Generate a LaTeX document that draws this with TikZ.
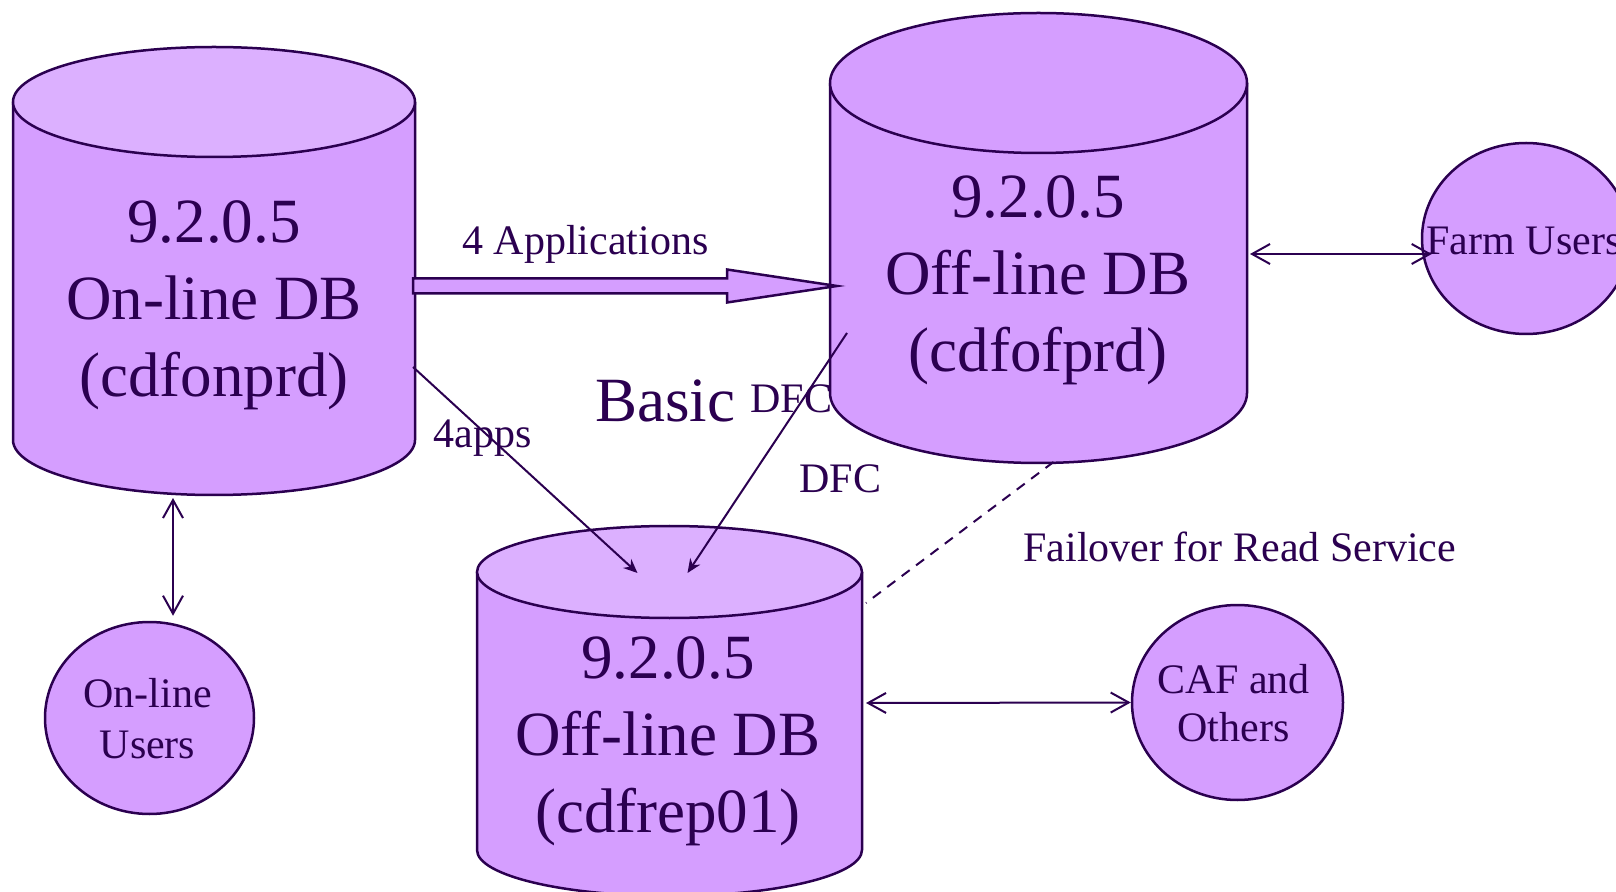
\documentclass[tikz,border=0pt]{standalone}
\usepackage{fontspec}
\setmainfont{Liberation Serif}
\usetikzlibrary{arrows.meta,calc,shapes.geometric}

\definecolor{ink}{HTML}{2B0050}
\definecolor{lilac}{HTML}{D59EFF}
\definecolor{lilactop}{HTML}{DCB0FF}

\tikzset{
  outline/.style={draw=ink, line width=1.25pt},
  dbtext/.style={text=ink, align=center, inner sep=0pt, font=\fontsize{31.5}{38.5}\selectfont},
  bigtext/.style={text=ink, inner sep=0pt, font=\fontsize{31.5}{38.5}\selectfont},
  smalltext/.style={text=ink, inner sep=0pt, font=\fontsize{21}{24}\selectfont},
  userell/.style={ellipse, draw=ink, line width=1.25pt, fill=lilac, inner sep=0pt},
  link/.style={draw=ink, line width=1pt},
  feed/.style={link, -{Stealth[length=7pt,width=6pt]}},
  both/.style={link, {Straight Barb[length=9pt,width=10pt]}-{Straight Barb[length=9pt,width=10pt]}},
  failover/.style={link, dash pattern=on 5pt off 4pt},
  blockarrow/.style={fill=lilac, draw=ink, line width=1.25pt, line join=miter},
}

% database drum: name, centre x, upper rim y, lower rim y, x radius, y radius, lid colour
\newcommand\dbdrum[7]{%
  \fill[lilac] ({#2-#5},#3) -- ({#2-#5},#4)
     arc[start angle=180,end angle=0,x radius=#5,y radius=#6] -- ({#2+#5},#3) -- cycle;
  \draw[outline] ({#2-#5},#3) -- ({#2-#5},#4)
     arc[start angle=180,end angle=0,x radius=#5,y radius=#6] -- ({#2+#5},#3);
  \filldraw[outline, fill=#7] (#2,#3) ellipse[x radius=#5, y radius=#6];
  \node[inner sep=0pt, outer sep=0pt, minimum width={#5*1pt}, minimum height={(#4-#3)*0.5pt}]
     (#1) at (#2,{(#3+#4)/2}) {};
}

\begin{document}
\begin{tikzpicture}[x=0.5pt, y=-0.5pt]
  \useasboundingbox (0,0) rectangle (1616,892);
  \fill[white] (0,0) rectangle (1616,892);
  \clip (0,0) rectangle (1616,892);

  % databases
  \dbdrum{on}{214}{102}{440}{201}{55}{lilactop}
  \dbdrum{off}{1038.5}{83}{393}{208.5}{70}{lilac}
  \dbdrum{rep}{669.5}{572}{850}{192.5}{46}{lilactop}

  \node[dbtext] (on-txt) at (214,304.6) {\strut 9.2.0.5\\\strut On-line DB\\\strut (cdfonprd)};
  \node[dbtext] (off-txt) at (1038,279) {\strut 9.2.0.5\\\strut Off-line DB\\\strut (cdfofprd)};
  \node[dbtext] (rep-txt) at (668,739.6) {\strut 9.2.0.5\\\strut Off-line DB\\\strut (cdfrep01)};

  % user groups
  \node[userell, minimum width=104.5pt, minimum height=96pt,
        label={[smalltext, font=\fontsize{21}{25.5}\selectfont, align=center, xshift=-1pt, yshift=-2.6pt]center:{\strut On-line\\\strut Users}}]
        (onu) at (149.5,718) {};
  \node[userell, minimum width=104pt, minimum height=95.5pt,
        label={[smalltext, xshift=-1pt, yshift=-3pt]center:{\strut Farm Users}}]
        (farm) at (1526,238.5) {};
  \node[userell, minimum width=105.5pt, minimum height=97.5pt,
        label={[smalltext, align=center, xshift=-2pt, yshift=-2.5pt]center:{\strut CAF and\\\strut Others}}]
        (caf) at (1237.5,702.5) {};

  % 4 Applications block arrow
  \coordinate (appsfrom) at ($(on.east)+(-2,15)$);
  \coordinate (appsto) at ($(off.west)+(7,48)$);
  \filldraw[blockarrow] ($(appsfrom)+(0,-7.5)$) -- ($(appsto)+(-110,-7.5)$)
    -- ($(appsto)+(-110,-16.5)$) -- (appsto) -- ($(appsto)+(-110,16.5)$)
    -- ($(appsto)+(-110,7.5)$) -- ($(appsfrom)+(0,7.5)$) -- cycle;

  % replication feeds
  \draw[feed] ($(on.east)+(-2,96)$) -- ($(rep.north)+(-32,1)$);
  \draw[feed] ($(off.west)+(17,95)$) -- ($(rep.north)+(18,1)$);
  \draw[failover] ($(off.south)+(15,69)$) -- ($(rep.north east)+(4,31)$);

  % user access
  \draw[both] ($(off.east)+(3,16)$) -- ($(farm.west)+(11,15.5)$);
  \draw[both] ($(rep.east)+(4,-8)$) -- (caf.west);
  \draw[both] ($(on.south)+(-41,58)$) -- ($(onu.north)+(23.5,-5)$);

  % labels
  \node[smalltext, anchor=base west] (apps-lbl) at (462,255) {4 Applications};
  \node[smalltext, anchor=base west] (fourapps) at (433,448) {4apps};
  \node[bigtext, anchor=base west] (basic) at (595,422) {Basic};
  \node[smalltext, anchor=base west] (dfc-a) at (750,413) {DFC};
  \node[smalltext, anchor=base west] (dfc-b) at (799,493) {DFC};
  \node[smalltext, anchor=base west] (fail) at (1023,561) {Failover for Read Service};
\end{tikzpicture}
\end{document}
